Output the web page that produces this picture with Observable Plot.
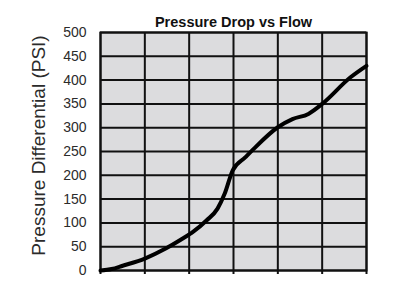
<!DOCTYPE html>
<html>
<head>
<meta charset="utf-8">
<script src="https://cdn.jsdelivr.net/npm/d3@7"></script>
<script src="https://cdn.jsdelivr.net/npm/@observablehq/plot@0.6"></script>
<style>
  html, body { margin: 0; padding: 0; background: #fff; }
  #chart { width: 400px; height: 284px; }
</style>
</head>
<body>
<div id="chart"></div>
<script>
// Flow (grid columns) and measured pressure differential along the curve
const flow = [0, 0.25, 0.5, 1.0, 1.47, 1.8, 2.1, 2.39, 2.64, 2.8, 2.98, 3.27, 3.45, 4.0, 4.33, 4.69, 5.0, 5.64, 6.0];
const psi  = [0, 3, 10, 25, 46, 64, 82, 105, 130, 161, 210, 238, 255, 301, 318, 329, 350, 406, 430];

const xTicks = [0, 1, 2, 3, 4, 5, 6];
const yTicks = [0, 50, 100, 150, 200, 250, 300, 350, 400, 450, 500];

const title = "Pressure Drop vs Flow";
const yLabel = "Pressure Differential (PSI)";

const data = flow.map((f, i) => ({flow: f, psi: psi[i]}));

const chart = Plot.plot({
  width: 400,
  height: 284,
  marginLeft: 100,
  marginRight: 34,
  marginTop: 32,
  marginBottom: 14,
  style: {fontFamily: "Liberation Sans, Arial, sans-serif", background: "#fff"},
  x: {domain: [0, 6], ticks: xTicks, tickSize: 4, tickFormat: () => "", label: null},
  y: {domain: [0, 500], ticks: yTicks, tickSize: 0, tickPadding: 14, label: null},
  marks: [
    Plot.frame({fill: "#dcdcde", stroke: null}),
    Plot.gridX(xTicks, {stroke: "#111", strokeOpacity: 1, strokeWidth: 2}),
    Plot.gridY(yTicks, {stroke: "#111", strokeOpacity: 1, strokeWidth: 2}),
    Plot.axisX({ticks: xTicks, tickSize: 4, tickFormat: () => "", stroke: "#111", strokeWidth: 2, label: null}),
    Plot.axisY({ticks: yTicks, tickSize: 0, tickPadding: 14, fontSize: 14, fill: "#2b2b2b", label: null}),
    Plot.frame({stroke: "#111", strokeWidth: 2}),
    Plot.line(data, {x: "flow", y: "psi", curve: "monotone-x", stroke: "#000", strokeWidth: 4, strokeLinejoin: "round", strokeLinecap: "round"}),
    Plot.text([title], {frameAnchor: "top", dy: -16, fontSize: 14.5, fontWeight: "bold", fill: "#111"}),
    Plot.text([yLabel], {frameAnchor: "left", textAnchor: "middle", dx: -62, dy: -6, rotate: -90, fontSize: 19, fill: "#2b2b2b"})
  ]
});

document.getElementById("chart").appendChild(chart);
</script>
</body>
</html>
